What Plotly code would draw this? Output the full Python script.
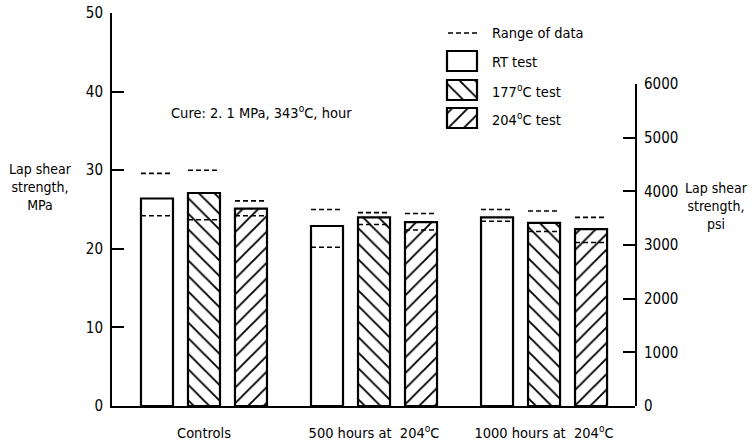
import plotly.graph_objects as go

# ---------------- data (MPa) ----------------
groups = ["Controls", "500 hours at  204<sup>o</sup>C", "1000 hours at  204<sup>o</sup>C"]
series = ["RT test", "177<sup>o</sup>C test", "204<sup>o</sup>C test"]

rt_mean = [26.4, 22.9, 24.0]
rt_hi = [29.6, 25.0, 25.0]
rt_lo = [24.2, 20.2, 23.5]

t177_mean = [27.1, 24.0, 23.3]
t177_hi = [30.0, 24.6, 24.8]
t177_lo = [23.7, 23.1, 22.2]

t204_mean = [25.1, 23.4, 22.5]
t204_hi = [26.1, 24.5, 24.0]
t204_lo = [24.2, 22.4, 20.8]

left_ticks = [0, 10, 20, 30, 40, 50]
right_ticks = [0, 1000, 2000, 3000, 4000, 5000, 6000]

# ---------------- layout geometry ----------------
W, H = 754, 443
L, R, T, B = 112, 635, 13, 406
FONT = "DejaVu Sans Condensed, Liberation Sans Narrow, Arial Narrow, sans-serif"
FS = 14.5
slot = 47 / 170
bw = 32 / 170
patterns = ["", "\\", "/"]

def px(xp):
    return (xp - L) / (R - L)

def py(yp):
    return (B - yp) / (B - T)

fig = go.Figure()

all_means = [rt_mean, t177_mean, t204_mean]
all_hi = [rt_hi, t177_hi, t204_hi]
all_lo = [rt_lo, t177_lo, t204_lo]

pat_style = dict(fgcolor="black", bgcolor="white", fgopacity=1, size=11, solidity=0.17,
                 fillmode="overlay")

for k in range(3):
    xs = [g + (k - 1) * slot for g in range(len(groups))]
    fig.add_trace(go.Bar(
        x=xs, y=all_means[k], width=bw, name=series[k],
        marker=dict(color="white", line=dict(color="black", width=2.2),
                    pattern=dict(shape=patterns[k], **pat_style)),
        showlegend=False,
    ))

# range-of-data dashes
for k in range(3):
    xs, ys = [], []
    for g in range(len(groups)):
        c = g + (k - 1) * slot
        for v in (all_hi[k][g], all_lo[k][g]):
            xs += [c - bw / 2, c + bw / 2, None]
            ys += [v, v, None]
    fig.add_trace(go.Scatter(x=xs, y=ys, mode="lines",
                             line=dict(color="black", width=1.6, dash="5px,3px"),
                             showlegend=False, hoverinfo="skip"))

# dummy trace to create psi axis subplot
fig.add_trace(go.Scatter(x=[None], y=[None], yaxis="y2", showlegend=False))

# ---------------- custom legend (pixel-space overlay axes) ----------------
leg_box_x = 462
leg_box_w = 30
leg_box_tops = [51, 80, 108]
leg_box_h = 20
for k in range(3):
    fig.add_trace(go.Bar(
        x=[leg_box_x], y=[leg_box_h], base=[leg_box_tops[k]], width=leg_box_w,
        xaxis="x3", yaxis="y3",
        marker=dict(color="white", line=dict(color="black", width=2.2),
                    pattern=dict(shape=patterns[k], **pat_style)),
        showlegend=False, hoverinfo="skip",
    ))
fig.add_trace(go.Scatter(x=[448, 477], y=[33, 33], xaxis="x3", yaxis="y3", mode="lines",
                         line=dict(color="black", width=1.6, dash="5px,3px"),
                         showlegend=False, hoverinfo="skip"))

annotations = []
leg_labels = ["Range of data"] + series
leg_label_y = [33, 62, 91, 119]
for txt, yy in zip(leg_labels, leg_label_y):
    annotations.append(dict(x=px(490), y=py(yy), xref="paper", yref="paper", text=txt,
                            showarrow=False, xanchor="left", yanchor="middle",
                            font=dict(size=FS, color="black", family=FONT)))

annotations.append(dict(x=px(169), y=py(112), xref="paper", yref="paper",
                        text="Cure: 2. 1 MPa, 343<sup>o</sup>C, hour", showarrow=False,
                        xanchor="left", yanchor="middle",
                        font=dict(size=FS, color="black", family=FONT)))
annotations.append(dict(x=px(40), y=py(187), xref="paper", yref="paper",
                        text="Lap shear<br>strength,<br>MPa", showarrow=False,
                        xanchor="center", yanchor="middle", align="center",
                        font=dict(size=14, color="black", family=FONT)))
annotations.append(dict(x=px(716), y=py(206), xref="paper", yref="paper",
                        text="Lap shear<br>strength,<br>psi", showarrow=False,
                        xanchor="center", yanchor="middle", align="center",
                        font=dict(size=14, color="black", family=FONT)))

tickfont = dict(size=15, color="black", family=FONT)

fig.update_layout(
    width=W, height=H, autosize=False,
    margin=dict(l=L, r=W - R, t=T, b=H - B, pad=0),
    paper_bgcolor="white", plot_bgcolor="rgba(0,0,0,0)",
    barmode="overlay",
    font=dict(family=FONT, color="black", size=FS),
    annotations=annotations,
    xaxis=dict(range=[-0.541, 2.535], tickvals=list(range(len(groups))), ticktext=groups,
               ticks="", showgrid=False, zeroline=False, showline=True, automargin=False,
               linecolor="black", linewidth=2, ticklabelstandoff=13,
               tickfont=dict(size=FS, color="black", family=FONT), fixedrange=True),
    yaxis=dict(range=[0, 50], tickvals=left_ticks, ticks="inside", ticklen=12, tickwidth=1.5,
               tickcolor="black", showgrid=False, zeroline=False, showline=True, automargin=False,
               linecolor="black", linewidth=2, tickfont=tickfont, ticklabelstandoff=4),
    yaxis2=dict(domain=[0, 0.819], range=[0, 6000], tickvals=right_ticks, anchor="x", side="right",
                ticks="inside", ticklen=12, tickwidth=1.5, tickcolor="black", automargin=False,
                showgrid=False, zeroline=False, showline=True, linecolor="black", linewidth=2,
                tickfont=tickfont, ticklabelstandoff=4),
    xaxis3=dict(overlaying="x", anchor="y3", range=[L, R], visible=False),
    yaxis3=dict(overlaying="y", anchor="x3", range=[B, T], visible=False),
)

fig.write_html("out.html")
